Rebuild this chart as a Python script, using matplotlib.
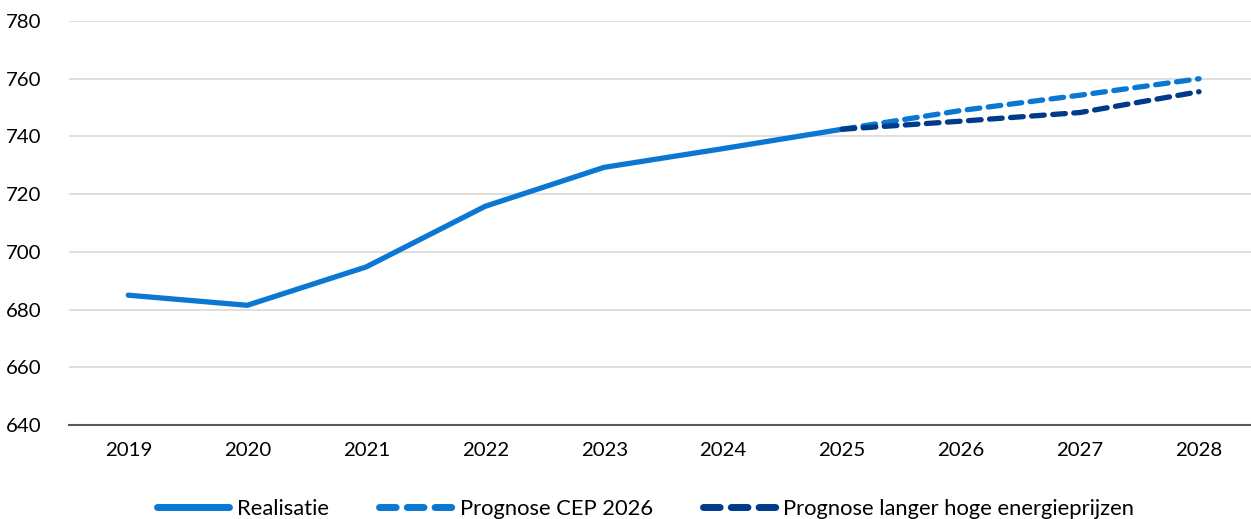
import matplotlib
matplotlib.use('Agg')
import matplotlib.pyplot as plt

plt.rcParams['font.family'] = ['Lato', 'DejaVu Sans']

years = ['2019', '2020', '2021', '2022', '2023', '2024', '2025', '2026', '2027', '2028']
realisatie = [685.0, 681.5, 694.8, 715.8, 729.3, 735.8, 742.5]
prognose_cep = [742.5, 749.0, 754.3, 760.0]
prognose_hoog = [742.5, 745.3, 748.3, 755.5]

col_light = '#0A78D2'
col_dark = '#003A8A'

fig = plt.figure(figsize=(12.51, 5.19), dpi=100)
ax = fig.add_axes([0.055, 0.181, 0.951, 0.7785])

x = list(range(len(years)))
ax.plot(x[:7], realisatie, color=col_light, lw=3.8, solid_capstyle='round',
        label='Realisatie', zorder=3)
ax.plot(x[6:], prognose_cep, color=col_light, lw=3.8, dashes=(2.4, 1.6),
        dash_capstyle='round', label='Prognose CEP 2026', zorder=4)
ax.plot(x[6:], prognose_hoog, color=col_dark, lw=3.8, dashes=(2.4, 1.6),
        dash_capstyle='round', label='Prognose langer hoge energieprijzen', zorder=5)

ax.set_xlim(-0.5, len(years) - 0.5)
ax.set_ylim(640, 780)
ax.set_yticks(range(640, 781, 20))
ax.set_xticks(x)
ax.set_xticklabels(years)
ax.grid(axis='y', color='#D9D9D9', lw=1.2)
ax.set_axisbelow(True)
for s in ['top', 'right', 'left']:
    ax.spines[s].set_visible(False)
ax.spines['bottom'].set_color('#595959')
ax.spines['bottom'].set_linewidth(1.5)
ax.tick_params(axis='both', length=0, labelsize=14.7, colors='black')
ax.tick_params(axis='x', pad=12)
ax.tick_params(axis='y', pad=20)

leg = fig.legend(loc='center', bbox_to_anchor=(0.516, 0.02), ncol=3, frameon=False,
                 fontsize=15.8, handlelength=3.3, handletextpad=0.35, columnspacing=2.3)
for h in leg.get_lines():
    h.set_linewidth(5)

plt.savefig('out.png', dpi=100)
